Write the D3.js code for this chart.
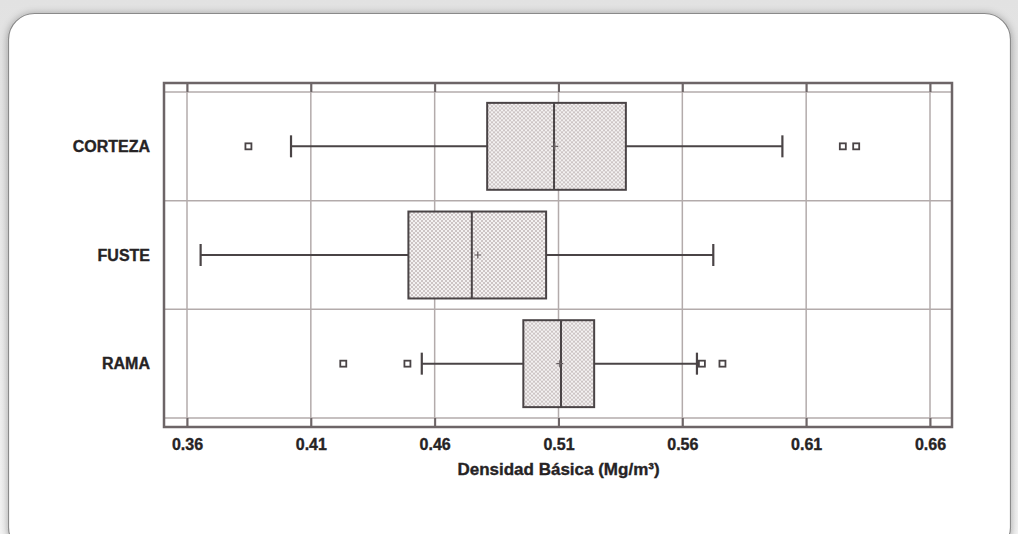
<!DOCTYPE html>
<html>
<head>
<meta charset="utf-8">
<script src="https://cdn.jsdelivr.net/npm/d3@7"></script>
<style>
  html, body { margin: 0; padding: 0; background: #e9e9e9; }
  svg { display: block; }
</style>
</head>
<body>
<svg id="chart" width="1018" height="534"></svg>
<script>
// ---- data ----
const categories = ["CORTEZA", "FUSTE", "RAMA"];
const whiskerLow  = [0.402, 0.3655, 0.4548];
const q1          = [0.4812, 0.4494, 0.4958];
const medians     = [0.5082, 0.4750, 0.5110];
const means       = [0.5085, 0.4774, 0.5105];
const q3          = [0.5372, 0.5050, 0.5244];
const whiskerHigh = [0.6004, 0.5725, 0.5659];
const outliers    = [[0.3848, 0.6248, 0.6302], [], [0.4231, 0.4490, 0.5679, 0.5762]];
const tickValues  = [0.36, 0.41, 0.46, 0.51, 0.56, 0.61, 0.66];
const xTitle      = "Densidad Básica (Mg/m³)";

// ---- layout ----
const svg = d3.select("#chart");
const frame = { left: 164, right: 952, top: 83, bottom: 427 };
const inner = { top: 92, bottom: 418 };
const frameColor = "#6d6567";
const gridColor = "#b3abab";
const markColor = "#4a4446";
const textColor = "#262324";
const font = "'Liberation Sans', Arial, sans-serif";

// background / card
const defs = svg.append("defs");
const grad = defs.append("linearGradient").attr("id", "bg").attr("x1", 0).attr("y1", 0).attr("x2", 0).attr("y2", 1);
grad.append("stop").attr("offset", 0).attr("stop-color", "#e2e2e2");
grad.append("stop").attr("offset", 1).attr("stop-color", "#f4f4f4");
svg.append("rect").attr("width", 1018).attr("height", 534).attr("fill", "url(#bg)");

const shadow = defs.append("filter").attr("id", "shadow").attr("x", -0.1).attr("y", -0.1).attr("width", 1.2).attr("height", 1.2);
shadow.append("feGaussianBlur").attr("in", "SourceAlpha").attr("stdDeviation", 4);
shadow.append("feOffset").attr("dx", 0).attr("dy", 1).attr("result", "b");
shadow.append("feComponentTransfer").append("feFuncA").attr("type", "linear").attr("slope", 0.35);
const fm = shadow.append("feMerge");
fm.append("feMergeNode");
fm.append("feMergeNode").attr("in", "SourceGraphic");

svg.append("rect")
  .attr("x", 8.5).attr("y", 13.5).attr("width", 1002).attr("height", 540)
  .attr("rx", 26).attr("ry", 26)
  .attr("fill", "#ffffff").attr("stroke", "#8a8a8a").attr("stroke-width", 1.2)
  .attr("filter", "url(#shadow)");

// hatch pattern for the boxes
const pat = defs.append("pattern").attr("id", "hatch").attr("patternUnits", "userSpaceOnUse")
  .attr("width", 4).attr("height", 4);
pat.append("rect").attr("width", 4).attr("height", 4).attr("fill", "#f4f2f2");
pat.append("path").attr("d", "M0,0L4,4M4,0L0,4").attr("stroke", "#c8c0c0").attr("stroke-width", 0.9);

// scales
const x = d3.scaleLinear().domain([0.36, 0.66]).range([187, 930]);
const y = d3.scaleBand().domain(categories).range([inner.top, inner.bottom]).padding(0);
const boxH = y.bandwidth() * 0.8;
const capH = 22;

// vertical grid lines
svg.append("g").selectAll("line").data(tickValues).join("line")
  .attr("x1", d => x(d)).attr("x2", d => x(d))
  .attr("y1", frame.top).attr("y2", frame.bottom)
  .attr("stroke", gridColor).attr("stroke-width", 1.5);

// horizontal lines at band edges
const edges = categories.map(c => y(c)).concat([inner.bottom]);
svg.append("g").selectAll("line").data(edges).join("line")
  .attr("x1", frame.left).attr("x2", frame.right)
  .attr("y1", d => d).attr("y2", d => d)
  .attr("stroke", gridColor).attr("stroke-width", 1.5);

// tick marks (top and bottom)
const axB = svg.append("g").attr("transform", `translate(0,${inner.bottom})`)
  .call(d3.axisBottom(x).tickValues(tickValues).tickSize(frame.bottom - inner.bottom).tickPadding(12).tickFormat(d3.format(".2f")));
axB.select(".domain").remove();
axB.selectAll(".tick line").attr("stroke", frameColor).attr("stroke-width", 2);
axB.selectAll(".tick text").attr("fill", textColor).attr("font-family", font)
  .attr("font-size", 16).attr("font-weight", "bold")
  .attr("stroke", textColor).attr("stroke-width", 0.35);

const axT = svg.append("g").attr("transform", `translate(0,${inner.top})`)
  .call(d3.axisTop(x).tickValues(tickValues).tickSize(inner.top - frame.top).tickFormat(""));
axT.select(".domain").remove();
axT.selectAll(".tick line").attr("stroke", frameColor).attr("stroke-width", 2);

// frame
svg.append("rect")
  .attr("x", frame.left).attr("y", frame.top)
  .attr("width", frame.right - frame.left).attr("height", frame.bottom - frame.top)
  .attr("fill", "none").attr("stroke", frameColor).attr("stroke-width", 2.5);

// boxes
const rows = categories.map((c, i) => ({
  c, lo: whiskerLow[i], q1: q1[i], med: medians[i], mean: means[i], q3: q3[i], hi: whiskerHigh[i], out: outliers[i]
}));
const g = svg.append("g").selectAll("g").data(rows).join("g")
  .attr("transform", d => `translate(0,${y(d.c) + y.bandwidth() / 2})`);

// whiskers
g.append("line").attr("x1", d => x(d.lo)).attr("x2", d => x(d.q1)).attr("y1", 0).attr("y2", 0)
  .attr("stroke", markColor).attr("stroke-width", 2);
g.append("line").attr("x1", d => x(d.q3)).attr("x2", d => x(d.hi)).attr("y1", 0).attr("y2", 0)
  .attr("stroke", markColor).attr("stroke-width", 2);
g.append("line").attr("x1", d => x(d.lo)).attr("x2", d => x(d.lo)).attr("y1", -capH / 2).attr("y2", capH / 2)
  .attr("stroke", markColor).attr("stroke-width", 2.2);
g.append("line").attr("x1", d => x(d.hi)).attr("x2", d => x(d.hi)).attr("y1", -capH / 2).attr("y2", capH / 2)
  .attr("stroke", markColor).attr("stroke-width", 2.2);

// box
g.append("rect").attr("x", d => x(d.q1)).attr("width", d => x(d.q3) - x(d.q1))
  .attr("y", -boxH / 2).attr("height", boxH)
  .attr("fill", "url(#hatch)").attr("stroke", markColor).attr("stroke-width", 2);
// median
g.append("line").attr("x1", d => x(d.med)).attr("x2", d => x(d.med)).attr("y1", -boxH / 2).attr("y2", boxH / 2)
  .attr("stroke", markColor).attr("stroke-width", 2);
// mean "+"
g.append("path").attr("d", d => `M${x(d.mean) - 3.5},0H${x(d.mean) + 3.5}M${x(d.mean)},-3.5V3.5`)
  .attr("stroke", "#6a6264").attr("stroke-width", 1.2);

// outliers
g.selectAll("rect.out").data(d => d.out).join("rect").attr("class", "out")
  .attr("x", v => x(v) - 3).attr("y", -3).attr("width", 6).attr("height", 6)
  .attr("fill", "#ffffff").attr("stroke", markColor).attr("stroke-width", 1.8);

// category labels
svg.append("g").selectAll("text").data(categories).join("text")
  .attr("x", 150).attr("y", d => y(d) + y.bandwidth() / 2)
  .attr("dy", "0.36em").attr("text-anchor", "end")
  .attr("font-family", font).attr("font-size", 16).attr("font-weight", "bold")
  .attr("stroke", textColor).attr("stroke-width", 0.35)
  .attr("fill", textColor).text(d => d);

// x title
svg.append("text").attr("x", (x(0.36) + x(0.66)) / 2).attr("y", 475)
  .attr("text-anchor", "middle").attr("font-family", font).attr("font-size", 17)
  .attr("font-weight", "bold").attr("fill", textColor)
  .attr("stroke", textColor).attr("stroke-width", 0.35).text(xTitle);
</script>
</body>
</html>
